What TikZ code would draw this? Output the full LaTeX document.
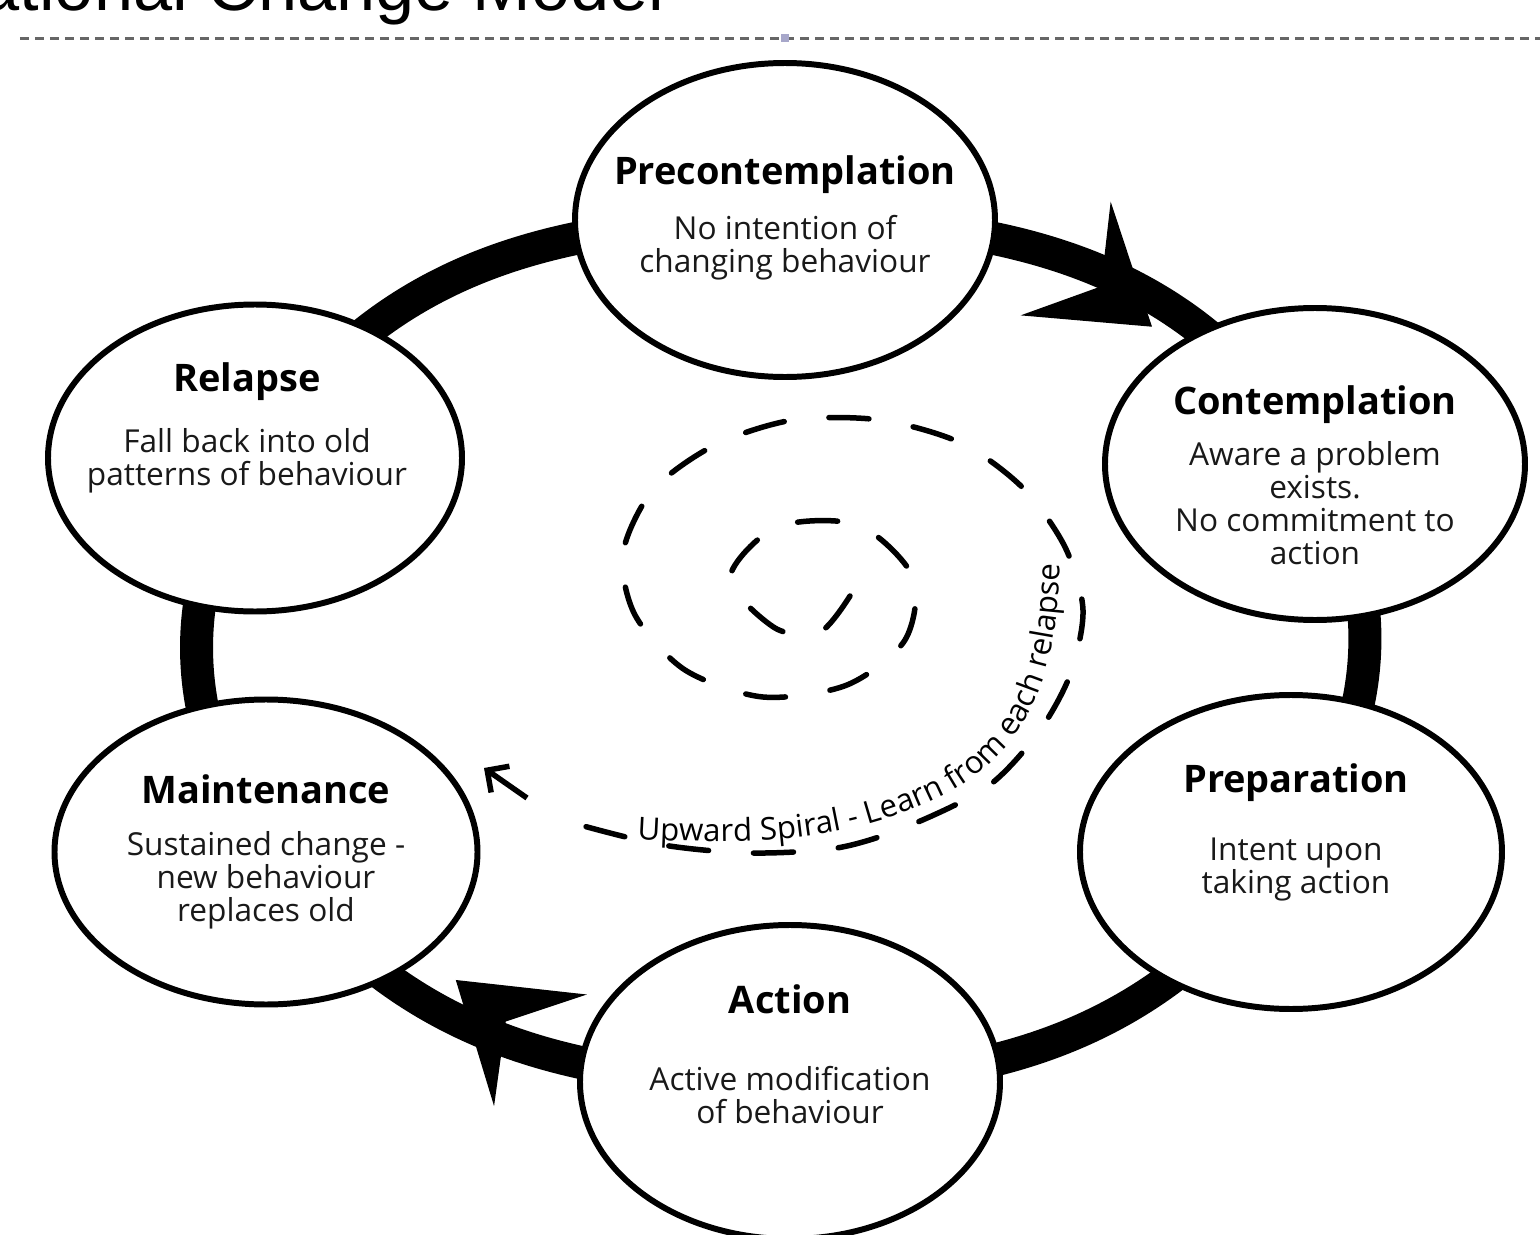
\documentclass[tikz,border=0pt]{standalone}
\usepackage{fontspec}
\setmainfont{Open Sans}
\newfontfamily\slidefont{Liberation Sans}
\usetikzlibrary{arrows.meta,decorations.markings,decorations.text,backgrounds,shapes.geometric}

\tikzset{
  stage/.style={draw, ellipse, line width=1.7pt, fill=white, minimum width=4.2cm, minimum height=3.14cm, inner sep=0pt},
  stagetext/.style={align=center, text=black!90, font=\fontsize{9}{9.4}\selectfont},
  ring/.style={line width=0.33cm},
  ringarrow/.style 2 args={postaction={decorate}, decoration={markings, mark=at position #1 with {
    \begin{scope}[xshift=-0.07cm, yshift=-0.16cm, rotate around={#2:(-1.1cm,0cm)}]
      \arrow{Stealth[length=1.1cm, width=1.45cm, inset=0.45cm, line width=0.4pt]}
    \end{scope}}}},
  spiral/.style={line width=0.055cm, dash pattern=on 0.4cm off 0.45cm, line cap=round}
}
\newcommand{\stagename}[1]{{\fontsize{10.8}{12}\selectfont\bfseries\color{black}#1}}

\begin{document}
\begin{tikzpicture}
\useasboundingbox (0,0) rectangle (15.4,12.34);

% slide title and frame, cut off at the top
\node[anchor=base west, inner sep=0pt, font=\slidefont\fontsize{20}{24}\selectfont] (title) at (-0.2,12.24) {ational Change Model};
\draw[black!60, line width=0.03cm, dash pattern=on 0.09cm off 0.06cm] (0.2,11.96) -- (15.4,11.96);
\fill[blue!25!gray!55] (7.81,11.92) rectangle (7.89,12.0);

% the six stages
\node (pre) at (7.85,10.14) [stage] {};
\node (con) at (13.15,7.70) [stage, minimum height=3.12cm] {};
\node (prep) at (12.91,3.82) [stage, minimum width=4.22cm] {};
\node (act) at (7.90,1.52) [stage] {};
\node (maint) at (2.66,3.82) [stage, minimum width=4.23cm, minimum height=3.05cm] {};
\node (rel) at (2.55,7.76) [stage, minimum width=4.14cm, minimum height=3.07cm] {};

\node (pre-t) at ([yshift=0.02cm]pre.center) [stagetext] {\stagename{Precontemplation}\\[5pt]No intention of\\changing behaviour};
\node (con-t) at ([yshift=-0.11cm]con.center) [stagetext] {\stagename{Contemplation}\\[4pt]Aware a problem\\exists.\\No commitment to\\action};
\node (prep-t) at ([xshift=0.05cm,yshift=0.2cm]prep.center) [stagetext] {\stagename{Preparation}\\[10pt]Intent upon\\taking action};
\node (act-t) at ([yshift=0.28cm]act.center) [stagetext] {\stagename{Action}\\[12.5pt]Active modification\\of behaviour};
\node (maint-t) at (maint.center) [stagetext] {\stagename{Maintenance}\\[5.5pt]Sustained change -\\new behaviour\\replaces old};
\node (rel-t) at ([xshift=-0.08cm,yshift=0.3cm]rel.center) [stagetext] {\stagename{Relapse}\\[7pt]Fall back into old\\patterns of behaviour};

% the cycle
\begin{scope}[on background layer]
\draw[ring, ringarrow={0.655}{-5}] (pre.center) to[out=0, in=120] (con.center);
\draw[ring] (con.center) to[out=-60, in=55] (prep.center);
\draw[ring] (prep.center) to[out=235, in=0] (act.center);
\draw[ring, ringarrow={0.62}{-10}] (act.center) to[out=180, in=-55] (maint.center);
\draw[ring] (maint.center) to[out=125, in=238] (rel.center);
\draw[ring] (rel.center) to[out=58, in=180] (pre.center);
\end{scope}

% upward spiral
\draw[spiral] plot[smooth] coordinates {(8.50,6.38) (8.20,6.02) (7.75,6.06) (7.30,6.56) (7.77,7.07) (8.58,7.09) (9.13,6.57) (9.05,5.94) (8.47,5.49) (7.63,5.37) (6.85,5.64) (6.35,6.19) (6.23,6.81) (6.53,7.44) (7.15,7.89) (7.93,8.14) (8.80,8.14) (9.61,7.91) (10.23,7.46) (10.65,6.87) (10.83,6.24) (10.70,5.59) (10.38,5.01) (9.87,4.47) (9.06,4.07) (8.37,3.86) (7.50,3.81) (6.63,3.89) (5.80,4.09) (5.60,4.18)};
\draw[line width=0.055cm, -{Straight Barb[length=0.16cm, width=0.32cm]}] (5.27,4.36) -- (4.84,4.66);
\path[decorate, decoration={text along path, text align={left}, text={|\fontsize{8.9}{10}\selectfont|Upward Spiral - Learn from each relapse}}]
  (6.37,3.95) .. controls (7.6,3.88) and (8.5,3.93) .. (9.42,4.38) .. controls (10.15,4.75) and (10.58,5.4) .. (10.60,6.70);
\end{tikzpicture}
\end{document}
